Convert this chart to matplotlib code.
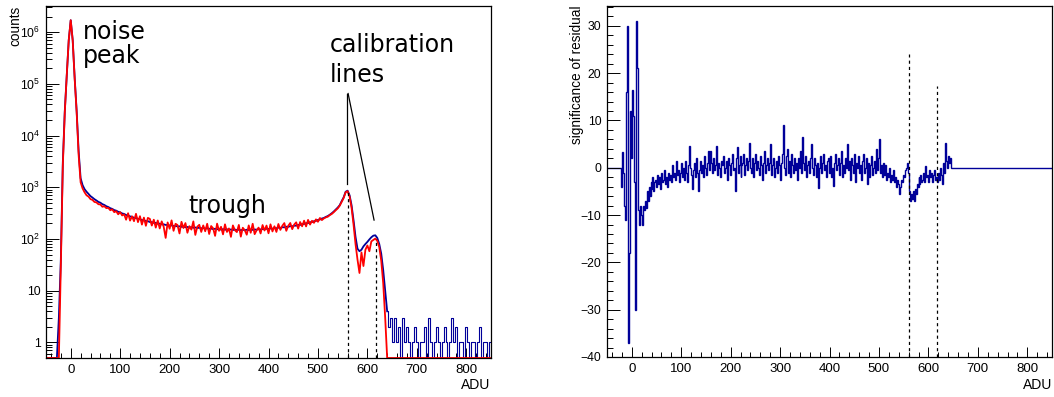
import numpy as np
import matplotlib
matplotlib.use("Agg")
import matplotlib.pyplot as plt
from matplotlib.ticker import MultipleLocator, FixedLocator, FuncFormatter, NullFormatter

plt.rcParams["font.family"] = ["Liberation Sans", "DejaVu Sans"]
plt.rcParams["mathtext.fontset"] = "custom"
plt.rcParams["mathtext.rm"] = "Liberation Sans"
plt.rcParams["mathtext.it"] = "Liberation Sans:italic"
plt.rcParams["mathtext.bf"] = "Liberation Sans:bold"

# spectrum histograms, 4 ADU bins starting at -50 ADU
hist_start, hist_width = -50, 4
blue_counts = [
    0, 0, 0, 0, 0, 0, 3, 40, 3000, 30000,
    150000, 700000, 1700000, 700000, 130000, 30000, 5000, 1500, 1100, 920,
    820, 745, 675, 632, 588, 556, 522, 503, 472, 455,
    430, 415, 394, 382, 362, 353, 336, 328, 312, 305,
    291, 286, 273, 269, 257, 254, 244, 242, 232, 231,
    222, 221, 213, 212, 205, 205, 198, 198, 192, 192,
    187, 187, 182, 183, 178, 179, 175, 176, 172, 173,
    169, 171, 167, 169, 165, 167, 163, 165, 161, 163,
    159, 161, 157, 159, 155, 158, 154, 156, 152, 155,
    151, 154, 150, 153, 149, 152, 149, 151, 148, 151,
    148, 151, 149, 152, 150, 153, 151, 155, 153, 156,
    154, 158, 156, 160, 158, 163, 161, 166, 164, 169,
    168, 173, 172, 177, 176, 181, 181, 187, 187, 194,
    195, 202, 203, 211, 212, 221, 224, 234, 238, 249,
    255, 268, 278, 295, 315, 340, 370, 405, 450, 540,
    640, 820, 860, 700, 450, 230, 110, 65, 58, 62,
    72, 80, 88, 98, 108, 116, 118, 105, 80, 52,
    25, 10, 4,
]
# sparse counts above the end of the spectrum (644-850 ADU)
blue_tail = [
    2, 3, 1, 3, 1, 2, 0, 3, 1, 2,
    1, 0, 1, 2, 1, 0, 1, 1, 2, 0,
    3, 1, 0, 1, 2, 1, 0, 1, 2, 1,
    0, 1, 3, 1, 2, 0, 1, 1, 0, 2,
    1, 0, 1, 1, 0, 1, 2, 0, 1, 1,
    0, 1,
]
red_counts = [
    0, 0, 0, 0, 0, 0, 0, 30, 2600, 28000,
    150000, 700000, 1700000, 690000, 125000, 28000, 4200, 1250, 950, 800,
    700, 660, 590, 570, 520, 510, 470, 465, 420, 430,
    395, 400, 360, 375, 330, 345, 300, 330, 285, 300,
    236, 315, 227, 274, 221, 307, 212, 276, 190, 259,
    180, 256, 245, 182, 236, 166, 228, 160, 219, 173,
    105, 209, 158, 229, 144, 197, 186, 128, 215, 163,
    203, 132, 177, 152, 219, 120, 173, 188, 137, 183,
    141, 197, 125, 178, 161, 115, 198, 144, 172, 123,
    192, 137, 160, 110, 183, 148, 136, 187, 111, 165,
    148, 121, 183, 132, 197, 124, 148, 166, 128, 186,
    146, 182, 129, 192, 140, 176, 137, 195, 150, 180,
    203, 144, 180, 204, 155, 190, 210, 159, 213, 176,
    226, 175, 234, 190, 225, 205, 240, 215, 255, 232,
    250, 262, 270, 290, 305, 330, 360, 390, 440, 520,
    620, 800, 840, 660, 400, 190, 80, 40, 22, 55,
    30, 62, 75, 58, 90, 96, 102, 92, 70, 38,
    14, 3, 0,
]

# residual significance, 2 ADU bins starting at -22 ADU (zero elsewhere)
resid_start, resid_width = -22, 2
residual = [
    -4, 3.3, -1, -8, -11, 16, 30, -37, -18, 12,
    2, 16.5, 11, -3, -30, 31, 21, -9, -12, -8,
    -10, -12, -8, -9, -7, -8.5, -5, -7, -4, -6,
    -3, -4.5, -2, -5, -3, -2.5, -4, -1.5, -3.5, -2,
    -4.5, -1, -3, -2.5, -0.5, -3.5, -2, -4, -1, -2.5,
    -1.5, -3, 0.5, -2, -1, -2.5, 1.5, -1.5, -0.5, -3,
    -1, 1, -2, 0, -2.5, 1.5, -1, -3, 0.5, 4.5,
    0, -1.5, -4.5, -0.5, 1, -2, 2, -1, -4.9, -0.5,
    1.5, -1, 0.5, -2, 2.5, 0, -1.5, 1, 3.5, -0.5,
    3.5, 1, -1, 2, -0.5, 0.5, 4.7, -1.5, 1, 0,
    -2, 1.5, 0.5, 2.5, -1, 0, 1.5, -2.5, 2, 0.5,
    -1.5, 1, 3, -0.5, 0, -5, 2, 4.3, -1, 0.5,
    2.5, -2, 0.5, 1, 3, -1.5, 0.5, 2, -0.5, 1.5,
    5.2, 0, -1, 2, -2, 1, 3, -0.5, 1.5, 0,
    -1.5, 2.5, 0.5, -2.5, 1, 3.5, -1, 0.5, 2, -0.5,
    1, 5, -1.5, 0.5, 2, -2, 0, 1.5, -1, 2.5,
    0.5, -2.5, 1, 3, 9.1, 0, -1.5, 2.5, 4, -1,
    1.5, -2, 3, 0.5, -1, 2, -0.5, 1, -2.5, 2,
    0, 3.5, -1, 6.6, 1, -0.5, 2.5, -2, 0.5, 1.5,
    -1, 2, 5, 0, -1.5, 2, 0.5, -2, 1, -4.3,
    0, 2.5, -1, 1, 3, -0.5, 0.5, -2, 1.5, 2,
    -1, 0.5, 2.5, -2, 0, -3.8, 1, 3, -0.5, 0.5,
    2, -1.5, 1, 3.5, -2, 0.5, -1, 2, 0, 5,
    -0.5, 1.5, -2.5, 2, 0.5, -1, 3, -3, 1, 0,
    2.5, -1, 0.5, -2.5, 1.5, 3, -1, 0, 2, -3.5,
    1, -2, 0.5, 2.5, -1.5, 0, 1.5, -1, 4, -0.5,
    2, 6.1, -1, 0.5, -2, 1, -1.5, 0.5, -2.5, -1,
    -2, 0, -3, -1.5, -2.5, -0.5, -3, -2, -4, -2.5,
    -3.5, -5.6, -4, -2.5, -3, -1.5, -2, -0.5, 0, 1,
    -1, -5, -7, -5.5, -6.5, -5, -7, -4.5, -5.5, -3.5,
    -4, -2, -3.5, -1.5, -3, -2.5, -1, -3, 0.3, -2,
    -1.5, -3, -0.5, -2, -1, -3, -1.5, -0.5, -2.5, -2,
    -3, -1, -2.5, 0, -1.5, -3.5, 1, -1, 5.2, 1.5,
    0, 2.5, 1, 2,
]

# calibration lines (ADU) and how high the dashed markers reach
cal_lines = [560, 617]
cal_top_left = [860, 100]
cal_top_right = [24, 17.2]

# pointer lines from the "calibration lines" label
pointer_x = [[559.7, 559.7], [561, 613.5]]
pointer_y = [[6.5e4, 1180], [6.5e4, 232]]

x_range = (-50, 850)
y_floor = 0.5
y_top = 3.2e6
BLUE = "#000099"
RED = "#ff0000"

W, H = 1054, 397
fig = plt.figure(figsize=(W / 100, H / 100), dpi=100)
ax1 = fig.add_axes([46 / W, 1 - 358 / H, 445 / W, 352 / H])
ax2 = fig.add_axes([607 / W, 1 - 357 / H, 445 / W, 351 / H])

# left: spectrum on log scale, empty bins drawn on the frame bottom
blue = np.array(blue_counts + blue_tail, dtype=float)
red = np.concatenate([red_counts, np.zeros(len(blue) - len(red_counts))])
centres = hist_start + hist_width * (np.arange(len(blue)) + 0.5)
blue_y = np.where(blue > 0, blue, y_floor)
red_y = np.where(red > 0, red, y_floor)
n_main = len(blue_counts)
ax1.plot(centres[:n_main], blue_y[:n_main], color=BLUE, lw=1.3)
ax1.plot(centres[n_main - 1:], blue_y[n_main - 1:], color=BLUE, lw=0.8, drawstyle="steps-mid")
ax1.plot(centres, red_y, color=RED, lw=1.3)
ax1.vlines(cal_lines, y_floor, cal_top_left, colors="k", lw=0.9, linestyles=(0, (2.5, 2.5)))
for px_, py_ in zip(pointer_x, pointer_y):
    ax1.plot(px_, py_, color="k", lw=0.9)

ax1.set_yscale("log")
ax1.set_xlim(*x_range)
ax1.set_ylim(y_floor, y_top)
decades = [10.0 ** n for n in range(7)]
minors = [k * d for d in [0.1] + decades for k in range(2, 10) if y_floor < k * d < y_top]
ax1.yaxis.set_major_locator(FixedLocator(decades))
ax1.yaxis.set_minor_locator(FixedLocator(minors))
ax1.yaxis.set_minor_formatter(NullFormatter())


def log_label(v, pos):
    n = int(round(np.log10(v)))
    if n == 0:
        return "1"
    if n == 1:
        return "10"
    return r"$10^{%d}$" % n


ax1.yaxis.set_major_formatter(FuncFormatter(log_label))

# right: residual significance
resid = np.concatenate([np.zeros((resid_start - x_range[0]) // resid_width), residual])
resid = np.concatenate([resid, np.zeros((x_range[1] - x_range[0]) // resid_width - len(resid))])
redges = x_range[0] + resid_width * np.arange(len(resid) + 1)
ax2.stairs(resid, redges, color=BLUE, lw=1.0, baseline=None)
ax2.vlines(cal_lines, -40, cal_top_right, colors="k", lw=0.9, linestyles=(0, (2.5, 2.5)))
ax2.set_xlim(*x_range)
ax2.set_ylim(-40, 34.2)
ax2.yaxis.set_major_locator(MultipleLocator(10))
ax2.yaxis.set_minor_locator(MultipleLocator(2))

for ax in (ax1, ax2):
    ax.xaxis.set_major_locator(MultipleLocator(100))
    ax.xaxis.set_minor_locator(MultipleLocator(20))
    ax.tick_params(which="both", direction="in", top=False, right=False, width=0.7, colors="k")
    ax.tick_params(axis="x", which="major", length=7, pad=4, labelsize=9.5)
    ax.tick_params(axis="x", which="minor", length=3.6)
    ax.tick_params(axis="y", which="major", length=9.3, pad=4, labelsize=8.8)
    ax.tick_params(axis="y", which="minor", length=4.6)
    for s in ax.spines.values():
        s.set_linewidth(0.9)


def fpos(x, y):
    return x / W, 1 - y / H


# axis titles, ROOT style
fig.text(*fpos(15, 6), "counts", rotation=90, ha="center", va="top", fontsize=9.8)
fig.text(*fpos(490, 389), "ADU", ha="right", va="baseline", fontsize=10)
fig.text(*fpos(577, 5), "significance of residual", rotation=90, ha="center", va="top", fontsize=9.8)
fig.text(*fpos(1052, 389), "ADU", ha="right", va="baseline", fontsize=10)

# annotations
note = dict(fontsize=17, family="DejaVu Sans", va="baseline", ha="left")
fig.text(*fpos(83, 39), "noise", **note)
fig.text(*fpos(83, 63), "peak", **note)
fig.text(*fpos(188, 213), "trough", **note)
fig.text(*fpos(330, 52), "calibration", **note)
fig.text(*fpos(330, 82), "lines", **note)

fig.savefig("out.png", dpi=100)
